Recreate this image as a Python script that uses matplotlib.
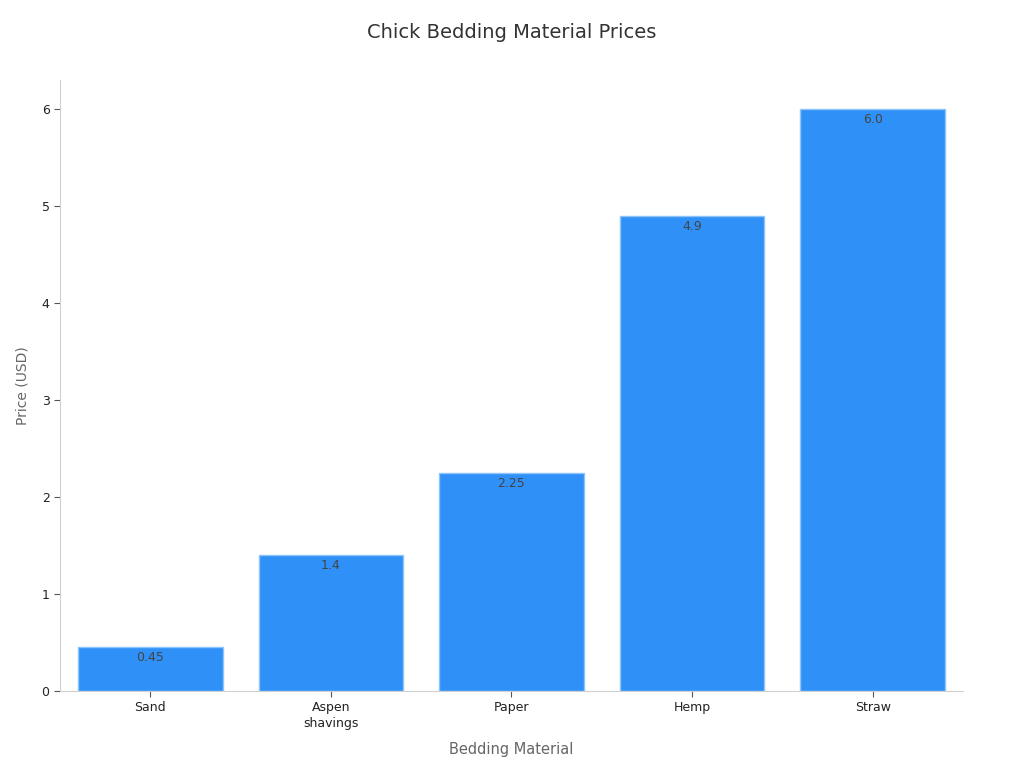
import matplotlib
matplotlib.use("Agg")
import matplotlib.pyplot as plt

materials = ["Sand", "Aspen\nshavings", "Paper", "Hemp", "Straw"]
prices = [0.45, 1.4, 2.25, 4.9, 6.0]
price_labels = ["0.45", "1.4", "2.25", "4.9", "6.0"]

fig = plt.figure(figsize=(10.24, 7.68), dpi=100)
ax = fig.add_axes([0.0586, 0.1003, 0.8818, 0.7957])

x = range(len(materials))
bars = ax.bar(x, prices, width=0.8, color="#2f91f7", edgecolor="#8cc4fb", linewidth=1)

for i, b in enumerate(bars):
    ax.text(b.get_x() + b.get_width() / 2, b.get_height() - 0.04, price_labels[i],
            ha="center", va="top", fontsize=9, color="#444444")

ax.set_xlim(-0.5, 4.5)
ax.set_ylim(0, 6.3)
ax.set_xticks(list(x))
ax.set_xticklabels(materials, fontsize=9, color="#222222", linespacing=1.25)
ax.set_yticks([0, 1, 2, 3, 4, 5, 6])
ax.tick_params(axis="y", labelsize=9, colors="#222222")
ax.tick_params(axis="both", color="#555555", length=4)

for s in ["top", "right"]:
    ax.spines[s].set_visible(False)
for s in ["left", "bottom"]:
    ax.spines[s].set_color("#d0d0d0")

ax.set_xlabel("Bedding Material", fontsize=10.5, color="#666666", labelpad=9)
ax.set_ylabel("Price (USD)", fontsize=10, color="#666666", labelpad=9)
fig.suptitle("Chick Bedding Material Prices", fontsize=14, color="#333333", y=0.97)

fig.savefig("out.png", dpi=100)
